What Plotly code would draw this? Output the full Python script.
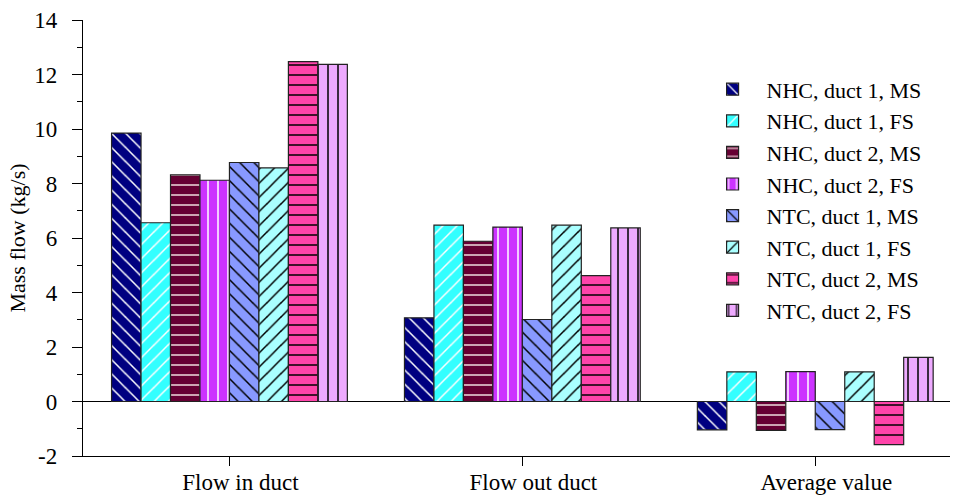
import plotly.graph_objects as go

categories = ["Flow in duct", "Flow out duct", "Average value"]
series_names = [
    "NHC, duct 1, MS", "NHC, duct 1, FS", "NHC, duct 2, MS", "NHC, duct 2, FS",
    "NTC, duct 1, MS", "NTC, duct 1, FS", "NTC, duct 2, MS", "NTC, duct 2, FS",
]
nhc_d1_ms = [9.85, 3.07, -1.04]
nhc_d1_fs = [6.56, 6.47, 1.09]
nhc_d2_ms = [8.32, 5.88, -1.06]
nhc_d2_fs = [8.12, 6.40, 1.10]
ntc_d1_ms = [8.77, 3.01, -1.03]
ntc_d1_fs = [8.57, 6.47, 1.09]
ntc_d2_ms = [12.47, 4.62, -1.58]
ntc_d2_fs = [12.37, 6.37, 1.62]
values = [nhc_d1_ms, nhc_d1_fs, nhc_d2_ms, nhc_d2_fs,
          ntc_d1_ms, ntc_d1_fs, ntc_d2_ms, ntc_d2_fs]

y_tickvals = [-2, 0, 2, 4, 6, 8, 10, 12, 14]
y_ticktext = ["-2", "0", "2", "4", "6", "8", "10", "12", "14"]

colors = ["#000080", "#33FFFF", "#660033", "#CC33FF",
          "#8899FF", "#AAFFFF", "#FF44AA", "#EEAAFF"]
shapes = ["\\", "/", "-", "|", "\\", "/", "-", "|"]
fgs = ["white", "white", "#EEDDDD", "white", "black", "black", "black", "black"]

FONT = "Liberation Serif"

fig = go.Figure()
for i, (name, vals) in enumerate(zip(series_names, values)):
    fig.add_trace(go.Bar(
        x=categories, y=vals, name=name,
        marker=dict(
            color=colors[i],
            line=dict(color="#222222", width=1.2),
            pattern=dict(shape=shapes[i], fgcolor=fgs[i], bgcolor=colors[i],
                         size=10, solidity=0.15, fillmode="replace"),
        ),
    ))

fig.update_layout(
    width=956, height=498,
    margin=dict(l=83, r=6, t=20, b=42),
    paper_bgcolor="white", plot_bgcolor="white",
    barmode="group", bargap=0.195, bargroupgap=0,
    font=dict(family=FONT, size=22, color="black"),
    legend=dict(
        x=0.71, y=0.889, xanchor="left", yanchor="top",
        font=dict(family=FONT, size=22, color="black"),
        itemwidth=58, bgcolor="rgba(0,0,0,0)",
        traceorder="normal",
    ),
    showlegend=True,
)
fig.update_xaxes(
    range=[-0.5, 2.46], showline=True, linecolor="black", linewidth=1.3,
    ticks="outside", ticklen=9, tickcolor="black", tickwidth=1.3,
    showgrid=False, zeroline=False, automargin=False,
    ticklabelstandoff=-4, ticklabelshift=11,
    tickfont=dict(family=FONT, size=23),
)
fig.update_yaxes(
    range=[-2, 14], tickmode="array", tickvals=y_tickvals, ticktext=y_ticktext,
    showline=True, linecolor="black",
    linewidth=1.3, ticks="outside", ticklen=10, tickcolor="black", tickwidth=1.3,
    minor=dict(dtick=1, tick0=0, ticks="outside", ticklen=5, tickcolor="black", tickwidth=1.3),
    showgrid=False, zeroline=True, zerolinecolor="black", zerolinewidth=1.3,
    automargin=False, ticklabelstandoff=10,
    title=dict(text="Mass flow (kg/s)", font=dict(family=FONT, size=22), standoff=2),
    tickfont=dict(family=FONT, size=23),
)

fig.write_html("out.html")
